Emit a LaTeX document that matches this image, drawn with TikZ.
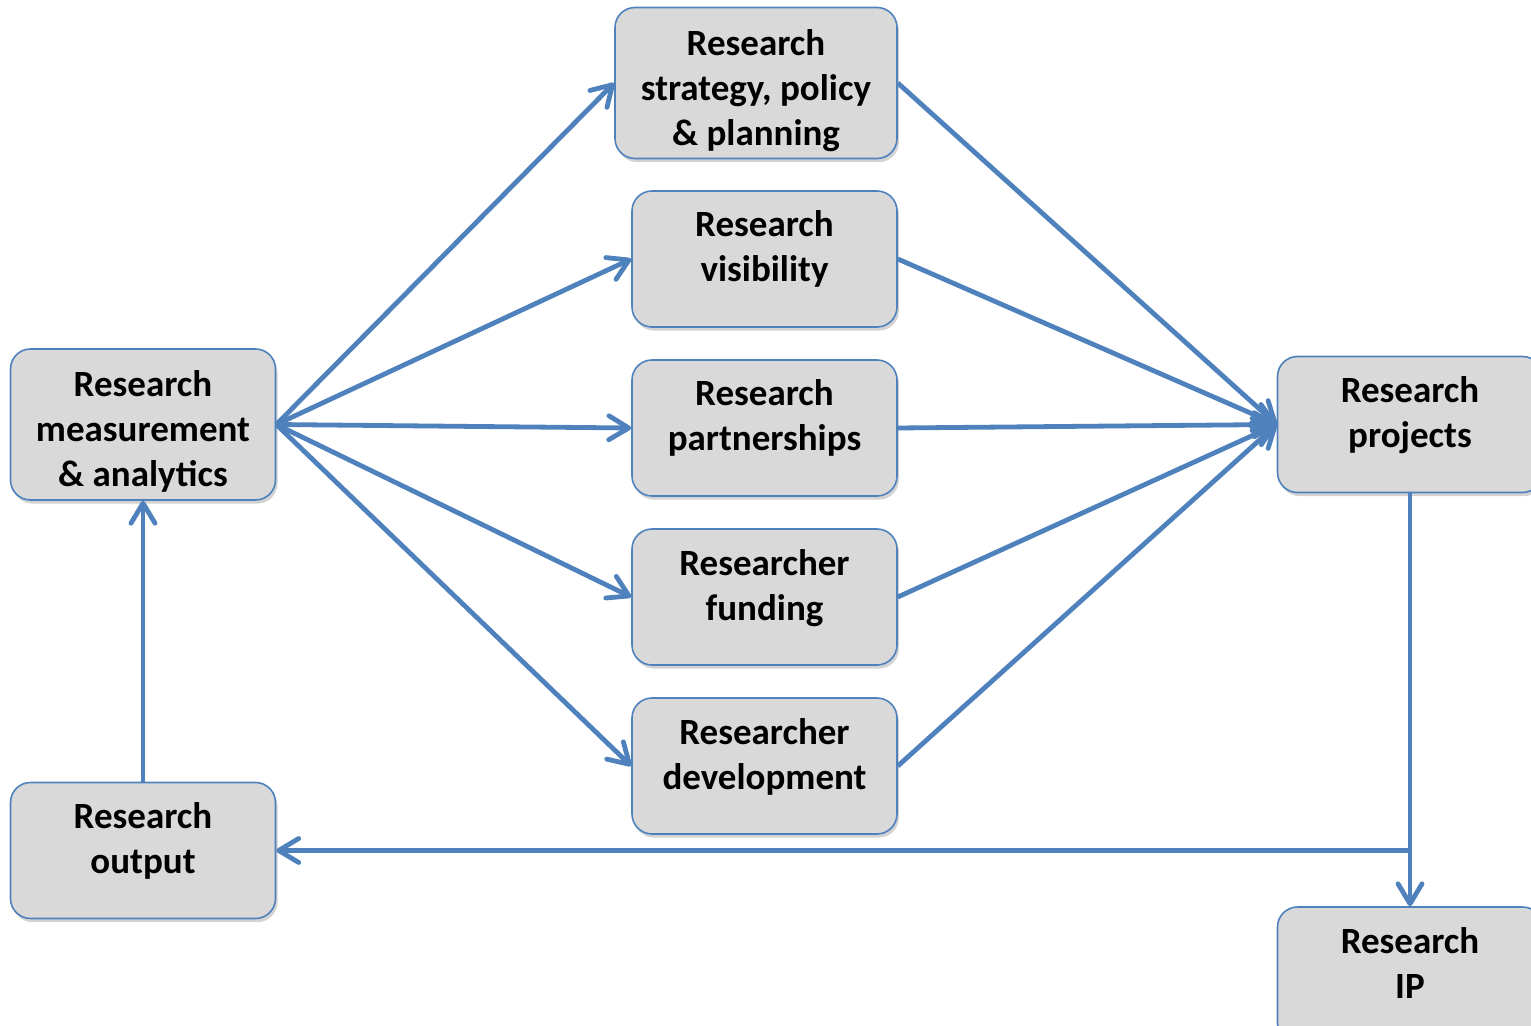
\documentclass[tikz,border=0pt]{standalone}
\usepackage{fontspec}
\setmainfont{Carlito}
\usetikzlibrary{arrows.meta, positioning, shadows}

\definecolor{edgeblue}{HTML}{4F81BD}
\definecolor{boxgray}{HTML}{D9D9D9}

\begin{document}
\begin{tikzpicture}[
    x=0.5pt, y=-0.5pt,
    % Core styles (text sits at the top of each box)
    stage/.style={
        rectangle, rounded corners=10pt, draw=edgeblue, fill=boxgray,
        line width=0.8pt, minimum width=132.5pt, minimum height=68pt,
        align=center, inner sep=2pt,
        text height=43.5pt, text depth=20.5pt,
        font=\fontsize{18.5}{22.5}\selectfont\bfseries,
        drop shadow={opacity=0.35, shadow xshift=1pt, shadow yshift=-1.8pt}
    },
    stagetall/.style={
        stage, minimum height=75.5pt,
        text height=67pt, text depth=4.5pt
    },
    flow/.style={
        -{Straight Barb[length=10pt, width=12pt, line width=2.4pt, round]},
        draw=edgeblue, line width=2.4pt
    }
]

\useasboundingbox (0,0) rectangle (1531,1026);

% === LEFT COLUMN ===
\node[stagetall] (measure) at (143,424.5) {Research\\measurement\\\& analytics};
\node[stage] (output) at (143,850.5) {Research\\output};

% === MIDDLE COLUMN ===
\node[stagetall, minimum width=141pt, minimum height=75pt] (strategy) at (756,83) {Research\\strategy, policy\\\& planning};
\node[stage] (visibility) at (764.5,259) {Research\\visibility};
\node[stage] (partner) at (764.5,428) {Research\\partnerships};
\node[stage] (funding) at (764.5,597) {Researcher\\funding};
\node[stage] (develop) at (764.5,766) {Researcher\\development};

% === RIGHT COLUMN ===
\node[stage] (projects) at (1410,424.5) {Research\\projects};
\node[stage] (ip) at (1410,975) {Research\\IP};

% === FAN OUT FROM MEASUREMENT ===
\foreach \dst in {strategy, visibility, partner, funding, develop}
    \draw[flow] (measure.east) -- (\dst.west);

% === FAN IN TO PROJECTS ===
\foreach \src in {strategy, visibility, partner, funding, develop}
    \draw[flow] (\src.east) -- (projects.west);

% === FEEDBACK LOOP ===
\coordinate (split) at (projects.south |- output.east);
\draw[flow] (projects.south) -- (ip.north);
\draw[flow] (split) -- (output.east);
\draw[flow] (output.north) -- (measure.south);

\end{tikzpicture}
\end{document}
